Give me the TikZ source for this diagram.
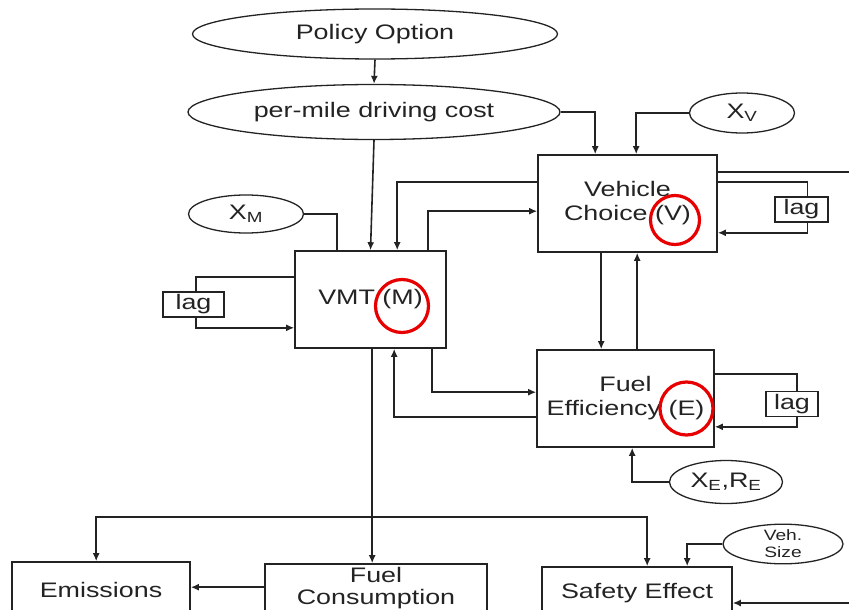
\documentclass[tikz,border=0pt]{standalone}
\usepackage{fontspec}
\setmainfont{Liberation Sans}[FakeStretch=1.28]
\usetikzlibrary{calc,arrows.meta,positioning,shapes.geometric}
\definecolor{inkgray}{RGB}{35,35,35}
\definecolor{markred}{RGB}{232,0,0}

\begin{document}
\begin{tikzpicture}[x=1pt, y=-1pt,
    every node/.style={font=\fontsize{21}{24}\selectfont, text=inkgray},
    oval/.style={ellipse, draw=inkgray, line width=1.3pt, inner sep=0pt},
    block/.style={draw=inkgray, line width=1.6pt, align=center, inner sep=0pt},
    lagbox/.style={draw=inkgray, line width=1.6pt, inner sep=0pt, minimum height=25pt},
    link/.style={draw=inkgray, line width=1.6pt},
    arr/.style={link, -{Latex[length=8pt,width=7pt]}},
    ring/.style={draw=markred, line width=3.2pt}]
  \useasboundingbox (0,0) rectangle (849,610);
  \clip (0,0) rectangle (849,610);

  \node[oval, minimum width=365pt, minimum height=50pt] (policy) at (375,34) {Policy Option};
  \node[oval, minimum width=372pt, minimum height=55pt] (cost) at (374,112) {per-mile driving cost};
  \node[oval, minimum width=105pt, minimum height=40pt] (xv) at (742,113) {X\textsubscript{V}};
  \node[oval, minimum width=115pt, minimum height=38pt] (xm) at (246,214) {X\textsubscript{M}};
  \node[oval, minimum width=113pt, minimum height=43pt] (xe) at (726,482) {X\textsubscript{E},R\textsubscript{E}};
  \node[oval, minimum width=120pt, minimum height=38pt, align=center,
        font=\fontsize{15}{17}\selectfont] (vs) at (783,544) {Veh.\\Size};

  \node[block, minimum width=179pt, minimum height=97pt] (vc) at (627.5,203.5) {Vehicle\\Choice (V)};
  \node[block, minimum width=151pt, minimum height=97pt] (vmt) at (370.5,299.5) {VMT (M)};
  \node[block, minimum width=177pt, minimum height=97pt] (fe) at (625.5,398.5) {Fuel\\Efficiency (E)};
  \node[lagbox, minimum width=53pt] (lagv) at (801.5,209.5) {lag};
  \node[lagbox, minimum width=61pt] (lagm) at (193.5,304.5) {lag};
  \node[lagbox, minimum width=52pt] (lage) at (792,404) {lag};
  \node[block, minimum width=178pt, minimum height=56pt] (emis) at (101,590) {Emissions};
  \node[block, minimum width=222pt, minimum height=48pt,
        font=\fontsize{21}{22}\selectfont] (fc) at (376,588) {Fuel\\Consumption};
  \node[block, minimum width=190pt, minimum height=52pt] (safe) at (637,593) {Safety Effect};

  \coordinate (rim) at (880,172);
  \coordinate (split) at ($(vmt.south west)+(78,168)$);

  \draw[arr] (policy.south) -- (cost.north);
  \draw[arr] (cost.south) -- (vmt.north);
  \draw[arr] (cost.east) -| ($(vc.north west)+(58,0)$);
  \draw[arr] (xv.west) -| ($(vc.north west)+(99,0)$);
  \draw[arr] (vc.east |- rim) -- (rim) |- ($(safe.east)+(0,10)$);
  \draw[link] ($(vc.north east)+(0,28)$) -| ($(lagv.north)+(6,0)$);
  \draw[arr] ($(lagv.south)+(6,0)$) |- ($(vc.south east)+(0,-20)$);
  \draw[arr] ($(vc.north west)+(0,28)$) -| ($(vmt.north west)+(103,0)$);
  \draw[arr] ($(vmt.north west)+(134,0)$) |- ($(vc.north west)+(0,57)$);
  \draw[link] (xm.east) -| ($(vmt.north west)+(43,0)$);
  \draw[link] ($(vmt.north west)+(0,27)$) -| ($(lagm.north)+(2.5,0)$);
  \draw[arr] ($(lagm.south)+(2.5,0)$) |- ($(vmt.south west)+(0,-21)$);
  \draw[arr] ($(vc.south west)+(64,0)$) -- ($(fe.north west)+(65,0)$);
  \draw[arr] ($(fe.north west)+(101,0)$) -- ($(vc.south west)+(100,0)$);
  \draw[arr] ($(vmt.south west)+(138,0)$) |- ($(fe.north west)+(0,43)$);
  \draw[arr] ($(fe.north west)+(0,68)$) -| ($(vmt.south west)+(100,0)$);
  \draw[link] ($(fe.north east)+(0,25)$) -| ($(lage.north)+(5,0)$);
  \draw[arr] ($(lage.south)+(5,0)$) |- ($(fe.south east)+(0,-21)$);
  \draw[arr] (xe.west) -| ($(fe.south west)+(96,0)$);
  \draw[arr] ($(vmt.south west)+(78,0)$) -- ($(fc.north west)+(108,0)$);
  \draw[arr] (split) -| ($(emis.north west)+(85,0)$);
  \draw[arr] (split) -| ($(safe.north west)+(106,0)$);
  \draw[arr] ($(fc.north west)+(0,24)$) -- ($(emis.north east)+(0,26)$);
  \draw[arr] (vs.west) -| ($(safe.north west)+(146,0)$);

  \draw[ring] (675,220) circle (24.5pt);
  \draw[ring] (402,306) circle (26.5pt);
  \draw[ring] (686.5,408.5) circle (26.5pt);
\end{tikzpicture}
\end{document}
